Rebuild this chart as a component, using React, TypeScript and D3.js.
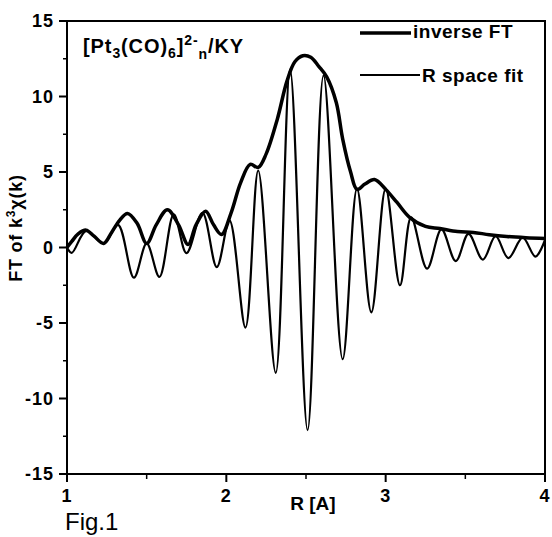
import React from 'react';
import * as d3 from 'd3';

// inverse FT (envelope), R in Å vs FT magnitude
const envR = [1.0, 1.03, 1.07, 1.12, 1.17, 1.23, 1.28, 1.33, 1.38, 1.44, 1.5, 1.56, 1.63, 1.7, 1.76, 1.81, 1.87, 1.92, 1.97, 2.03, 2.09, 2.15, 2.2, 2.25, 2.32, 2.38, 2.43, 2.48, 2.53, 2.58, 2.63, 2.69, 2.73, 2.78, 2.82, 2.87, 2.93, 3.0, 3.07, 3.15, 3.25, 3.34, 3.45, 3.55, 3.65, 3.76, 3.88, 4.0];
const envY = [0.0, 0.4, 0.9, 1.15, 0.75, 0.27, 1.0, 1.8, 2.25, 1.6, 0.27, 1.5, 2.5, 1.5, 0.2, 1.5, 2.4, 1.5, 0.86, 2.3, 4.3, 5.5, 5.3, 6.2, 8.5, 11.0, 12.3, 12.7, 12.6, 12.0, 11.3, 9.6, 7.2, 5.0, 3.85, 4.2, 4.5, 3.85, 3.0, 2.0, 1.4, 1.26, 1.06, 1.0, 0.85, 0.73, 0.65, 0.6];

// R space fit (oscillating part)
const fitR = [1.0, 1.03, 1.12, 1.23, 1.32, 1.42, 1.5, 1.58, 1.67, 1.75, 1.85, 1.94, 2.02, 2.12, 2.2, 2.31, 2.4, 2.51, 2.61, 2.73, 2.82, 2.91, 3.0, 3.09, 3.16, 3.26, 3.35, 3.44, 3.52, 3.61, 3.69, 3.77, 3.86, 3.94, 4.0];
const fitY = [0.0, -0.35, 1.1, 0.27, 1.5, -2.0, 0.27, -1.95, 2.2, -0.37, 2.3, -1.3, 1.8, -5.3, 5.1, -8.3, 11.8, -12.1, 11.4, -7.4, 3.9, -4.3, 3.9, -2.5, 2.0, -1.4, 1.2, -0.9, 0.9, -0.8, 0.75, -0.7, 0.65, -0.6, 0.5];

const xTicks = [1, 2, 3, 4];
const xMinor = [1.5, 2.5, 3.5];
const yTicks = [-15, -10, -5, 0, 5, 10, 15];
const yMinor = [-12.5, -7.5, -2.5, 2.5, 7.5, 12.5];

const legendLabels = ['inverse FT', 'R space fit'];

const FONT = '"Liberation Sans", Arial, Helvetica, sans-serif';

export default function App() {
  const W = 552;
  const H = 537;
  const left = 67, right = 545, top = 21, bottom = 474;
  const x = d3.scaleLinear().domain([1, 4]).range([left, right]);
  const y = d3.scaleLinear().domain([-15, 15]).range([bottom, top]);

  const line = d3
    .line<[number, number]>()
    .x((d) => x(d[0]))
    .y((d) => y(d[1]))
    .curve(d3.curveCatmullRom.alpha(0.5));

  const envPath = line(envR.map((r, i) => [r, envY[i]] as [number, number])) || '';
  const fitPath = line(fitR.map((r, i) => [r, fitY[i]] as [number, number])) || '';

  const tickFont = {
    fontFamily: FONT,
    fontSize: 18,
    fontWeight: 'bold' as const,
    letterSpacing: 1,
    fill: '#000',
  };

  return (
    <svg
      width={W}
      height={H}
      viewBox={`0 0 ${W} ${H}`}
      style={{ position: 'absolute', left: 0, top: 0, background: '#fff' }}
    >
      <rect x={0} y={0} width={W} height={H} fill="#fff" />
      {/* curves */}
      <path d={fitPath} fill="none" stroke="#000" strokeWidth={2.2} strokeLinejoin="round" />
      <path d={envPath} fill="none" stroke="#000" strokeWidth={3.5} strokeLinejoin="round" />

      {/* frame */}
      <rect x={left} y={top} width={right - left} height={bottom - top} fill="none" stroke="#000" strokeWidth={2} />

      {/* x ticks */}
      {xTicks.map((t) => (
        <g key={'xt' + t}>
          <line x1={x(t)} x2={x(t)} y1={bottom} y2={bottom + 8} stroke="#000" strokeWidth={2} />
          <text x={x(t)} y={502} textAnchor="middle" {...tickFont}>
            {t}
          </text>
        </g>
      ))}
      {xMinor.map((t) => (
        <line key={'xm' + t} x1={x(t)} x2={x(t)} y1={bottom} y2={bottom + 5} stroke="#000" strokeWidth={1.5} />
      ))}

      {/* y ticks */}
      {yTicks.map((t) => (
        <g key={'yt' + t}>
          <line x1={left - 8} x2={left} y1={y(t)} y2={y(t)} stroke="#000" strokeWidth={2} />
          <text x={54} y={y(t) + 6} textAnchor="end" {...tickFont}>
            {t}
          </text>
        </g>
      ))}
      {yMinor.map((t) => (
        <line key={'ym' + t} x1={left - 4} x2={left} y1={y(t)} y2={y(t)} stroke="#000" strokeWidth={1.5} />
      ))}

      {/* axis titles */}
      <text x={313} y={510} textAnchor="middle" fontFamily={FONT} fontSize={19} fontWeight="bold">
        R [A]
      </text>
      <text
        transform="translate(22,228) rotate(-90)"
        textAnchor="middle"
        fontFamily={FONT}
        fontSize={18}
        fontWeight="bold"
        letterSpacing={0.8}
      >
        FT of k<tspan dy={-7} fontSize={12}>3</tspan>
        <tspan dy={7}>χ(k)</tspan>
      </text>

      {/* sample label */}
      <text x={83} y={53} fontFamily={FONT} fontSize={20} fontWeight="bold" letterSpacing={0.9}>
        [Pt<tspan dy={5} fontSize={14}>3</tspan>
        <tspan dy={-5}>(CO)</tspan>
        <tspan dy={5} fontSize={14}>6</tspan>
        <tspan dy={-5}>]</tspan>
        <tspan dy={-8} fontSize={14}>2-</tspan>
        <tspan dy={14} fontSize={14}>n</tspan>
        <tspan dy={-6}>/KY</tspan>
      </text>

      {/* legend */}
      <line x1={360} x2={411} y1={33} y2={33} stroke="#000" strokeWidth={3.5} />
      <text x={413} y={38} fontFamily={FONT} fontSize={19} fontWeight="bold" letterSpacing={0.5}>
        {legendLabels[0]}
      </text>
      <line x1={360} x2={420} y1={75} y2={75} stroke="#000" strokeWidth={2.2} />
      <text x={422} y={82} fontFamily={FONT} fontSize={19} fontWeight="bold" letterSpacing={0.5}>
        {legendLabels[1]}
      </text>

      {/* figure caption */}
      <text x={65} y={530} fontFamily={FONT} fontSize={24}>
        Fig.1
      </text>
    </svg>
  );
}
